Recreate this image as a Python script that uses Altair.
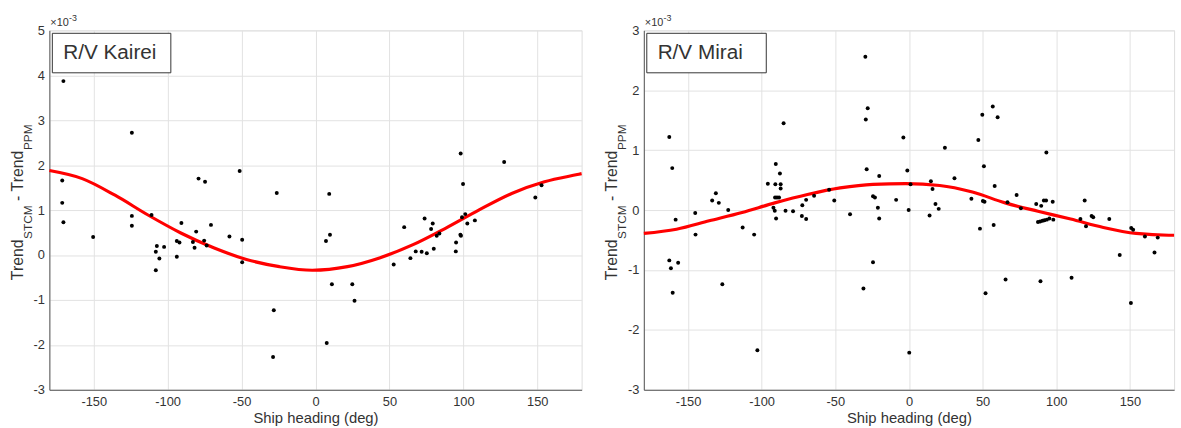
import altair as alt
import pandas as pd

FONT = "Liberation Sans"

# ---- R/V Kairei (values in units of 1e-3) ----
heading_kairei = [-170.5, -124.2, -171.3, -171.3, -170.5, -150.4, -124.2, -124.2, -110.9, -107.3,
                  -102.4, -108.0, -105.6, -108.0, -93.8, -92.0, -93.8, -90.7, -80.7, -82.9,
                  -81.8, -79.1, -74.7, -75.3, -73.6, -70.7, -58.2, -51.3, -49.6, -49.6,
                  -28.2, -28.7, -26.2, 7.1, 9.8, 9.3, 11.1, 7.6, 24.9, 26.4,
                  52.9, 60.0, 64.2, 67.8, 71.8, 75.3, 73.8, 79.3, 78.2, 80.0,
                  82.0, 83.8, 95.1, 94.9, 98.0, 98.4, 98.2, 99.8, 99.1, 101.3,
                  102.7, 107.8, 127.6, 148.7, 152.9]
diff_kairei = [3.87, 2.72, 1.66, 1.16, 0.73, 0.40, 0.87, 0.65, 0.89, 0.20,
               0.18, 0.07, -0.08, -0.34, 0.31, 0.28, -0.04, 0.71, 0.52, 0.29,
               0.16, 1.70, 1.63, 0.32, 0.21, 0.67, 0.41, 1.87, 0.34, -0.16,
               -1.23, -2.27, 1.38, 0.31, 0.45, 1.36, -0.65, -1.96, -0.65, -1.02,
               -0.21, 0.62, -0.07, 0.08, 0.07, 0.04, 0.81, 0.70, 0.58, 0.14,
               0.43, 0.48, 0.28, 0.08, 0.45, 0.43, 2.26, 1.58, 0.84, 0.91,
               0.70, 0.77, 2.07, 1.28, 1.55]
fit_heading_kairei = [-180, -157.8, -135.6, -113.3, -91.1, -68.9, -46.7, -24.4, -2.2,
                      21.6, 43.8, 66.0, 88.2, 110.4, 132.7, 154.9, 177.1, 180]
fit_diff_kairei = [1.88, 1.70, 1.33, 0.89, 0.49, 0.16, -0.10, -0.26, -0.34,
                   -0.26, -0.06, 0.23, 0.60, 1.00, 1.37, 1.63, 1.79, 1.81]

# ---- R/V Mirai ----
heading_mirai = [-162.7, -160.7, -158.4, -162.7, -161.6, -156.7, -160.4, -145.1, -144.9, -133.6,
                 -131.1, -129.1, -126.7, -122.7, -112.9, -105.1, -102.9, -95.8, -92.0, -91.1,
                 -90.9, -90.4, -90.7, -90.2, -89.6, -88.2, -87.6, -87.1, -87.1, -85.1,
                 -83.8, -78.7, -72.4, -72.7, -69.8, -69.8, -64.4, -54.2, -50.7, -40.0,
                 -30.9, -29.6, -28.0, -29.3, -28.7, -24.4, -24.4, -23.1, -21.1, -20.2,
                 -20.2, -8.7, -3.8, -1.1, -0.2, 0.2, 1.1, 14.0, 14.9, 16.0,
                 18.0, 20.2, 24.4, 30.9, 42.4, 47.1, 48.2, 49.8, 50.2, 51.3,
                 50.9, 52.0, 56.9, 57.5, 58.2, 60.2, 65.6, 66.9, 73.1, 76.0,
                 86.4, 87.6, 89.1, 89.3, 89.8, 90.7, 91.6, 92.0, 93.1, 93.3,
                 93.6, 95.3, 97.6, 98.0, 110.4, 116.4, 119.3, 120.2, 124.0, 125.1,
                 136.0, 143.1, 150.7, 150.9, 152.2, 160.2, 166.7, 168.9]
diff_mirai = [1.22, 0.70, -0.16, -0.84, -0.97, -0.88, -1.38, -0.05, -0.41, 0.16,
              0.28, 0.12, -1.24, 0.00, -0.29, -0.41, -2.34, 0.44, 0.04, -0.01,
              0.21, 0.77, 0.43, -0.14, 0.21, 0.21, 0.61, 0.43, 0.36, 1.45,
              -0.01, -0.02, 0.08, -0.10, -0.15, 0.17, 0.24, 0.34, 0.16, -0.07,
              -1.31, 2.56, 1.70, 1.51, 0.68, -0.87, 0.23, 0.21, 0.04, 0.57,
              -0.14, 0.17, 1.21, 0.66, 0.00, -2.38, 0.43, -0.09, 0.48, 0.35,
              0.10, 0.02, 1.04, 0.53, 0.19, 1.17, -0.31, 1.59, 0.15, 0.14,
              0.73, -1.39, 1.73, -0.25, 0.40, 1.55, -1.16, 0.13, 0.25, 0.03,
              0.10, -0.20, -0.19, -1.19, 0.07, -0.18, 0.16, -0.17, 0.16, 0.96,
              -0.16, -0.14, 0.14, -0.16, -1.13, -0.15, 0.16, -0.27, -0.10, -0.12,
              -0.15, -0.75, -1.55, -0.30, -0.33, -0.44, -0.71, -0.46]
fit_heading_mirai = [-180, -157.8, -135.6, -113.3, -91.1, -68.9, -46.7, -24.4, -2.2,
                     20.9, 43.1, 65.3, 87.6, 109.8, 132.0, 154.2, 176.4, 180]
fit_diff_mirai = [-0.39, -0.32, -0.18, -0.04, 0.12, 0.26, 0.37, 0.43, 0.44,
                  0.41, 0.30, 0.12, -0.02, -0.15, -0.29, -0.39, -0.42, -0.42]

x_ticks = [-150, -100, -50, 0, 50, 100, 150]
x_title = "Ship heading (deg)"
labels = ["R/V Kairei", "R/V Mirai"]

TXT = "#333333"
LABEL_EXPR = "'' + datum.value"


def one_text(txt, x, y, size, angle=0, baseline="alphabetic", align="left"):
    kw = dict(text=txt, font=FONT, fontSize=size, color=TXT, align=align, baseline=baseline)
    if angle:
        kw["angle"] = angle
    return alt.Chart(pd.DataFrame({"k": [0]})).mark_text(**kw).encode(
        x=alt.value(x), y=alt.value(y))


def panel(px, py, cx, cy, label, ymin, ymax, width, height, box_w):
    pts = pd.DataFrame({"heading": px, "diff": py})
    crv = pd.DataFrame({"heading": cx, "diff": cy})
    xsc = alt.Scale(domain=[-180, 180], nice=False, zero=False)
    ysc = alt.Scale(domain=[ymin, ymax], nice=False, zero=False)
    xax = alt.Axis(values=x_ticks, title=x_title, grid=True, ticks=False, tickSize=0,
                   labelExpr=LABEL_EXPR,
                   labelPadding=6, titlePadding=2, labelFontSize=13, titleFontSize=15,
                   labelColor=TXT, titleColor=TXT, titleFontWeight="normal",
                   labelFont=FONT, titleFont=FONT, gridColor="#e2e2e2",
                   domainColor="#555555")
    yax = alt.Axis(values=list(range(ymin, ymax + 1)), title=None, grid=True, ticks=False,
                   labelExpr=LABEL_EXPR,
                   tickSize=0, labelPadding=5, labelFontSize=13, labelColor=TXT,
                   labelFont=FONT, gridColor="#e2e2e2", domainColor="#555555")
    points = alt.Chart(pts).mark_circle(size=16, color="black", opacity=1).encode(
        x=alt.X("heading:Q", scale=xsc, axis=xax),
        y=alt.Y("diff:Q", scale=ysc, axis=yax))
    curve = alt.Chart(crv).mark_line(color="#ff0000", strokeWidth=3.2,
                                     interpolate="monotone").encode(
        x=alt.X("heading:Q", scale=xsc), y=alt.Y("diff:Q", scale=ysc))
    one = pd.DataFrame({"k": [0]})
    box = alt.Chart(one).mark_rect(fill="white", stroke="#333333", strokeWidth=1).encode(
        x=alt.value(3), x2=alt.value(3 + box_w), y=alt.value(3), y2=alt.value(43))
    box_text = one_text(label, 14, 23, 21, baseline="middle")
    # multiplier
    mult = one_text("×10", 1, -4, 11)
    expo = one_text("-3", 20, -9, 9)
    # y title with subscripts (rotated)
    y0 = 253
    t1 = one_text("Trend", -27, y0, 16, angle=270)
    s1 = one_text("STCM", -18, y0 - 41.8, 12, angle=270)
    dash = one_text("-", -27, y0 - 41.8 - 34 - 4.4, 16, angle=270)
    t2 = one_text("Trend", -27, y0 - 41.8 - 34 - 4.4 - 5.3 - 4.4, 16, angle=270)
    s2 = one_text("PPM", -18, y0 - 41.8 - 34 - 4.4 - 5.3 - 4.4 - 41.8, 12, angle=270)
    # invisible anchor fixing the left / top extents of each panel
    anchor = alt.Chart(one).mark_rect(opacity=0).encode(
        x=alt.value(-49), x2=alt.value(-48), y=alt.value(-27), y2=alt.value(-26))
    return alt.layer(anchor, curve, points, box, box_text, mult, expo,
                     t1, s1, dash, t2, s2).properties(width=width, height=height)


left = panel(heading_kairei, diff_kairei, fit_heading_kairei, fit_diff_kairei,
             labels[0], -3, 5, 539, 364, 120)
right = panel(heading_mirai, diff_mirai, fit_heading_mirai, fit_diff_mirai,
              labels[1], -3, 3, 537, 364, 121)

chart = alt.hconcat(left, right, spacing=6).properties(
    padding={"left": 0, "top": 0, "right": 0, "bottom": 0}
).configure_view(stroke="#555555", strokeWidth=1).configure(background="white")

chart.save("out.html", embed_options={"renderer": "svg", "actions": False})
